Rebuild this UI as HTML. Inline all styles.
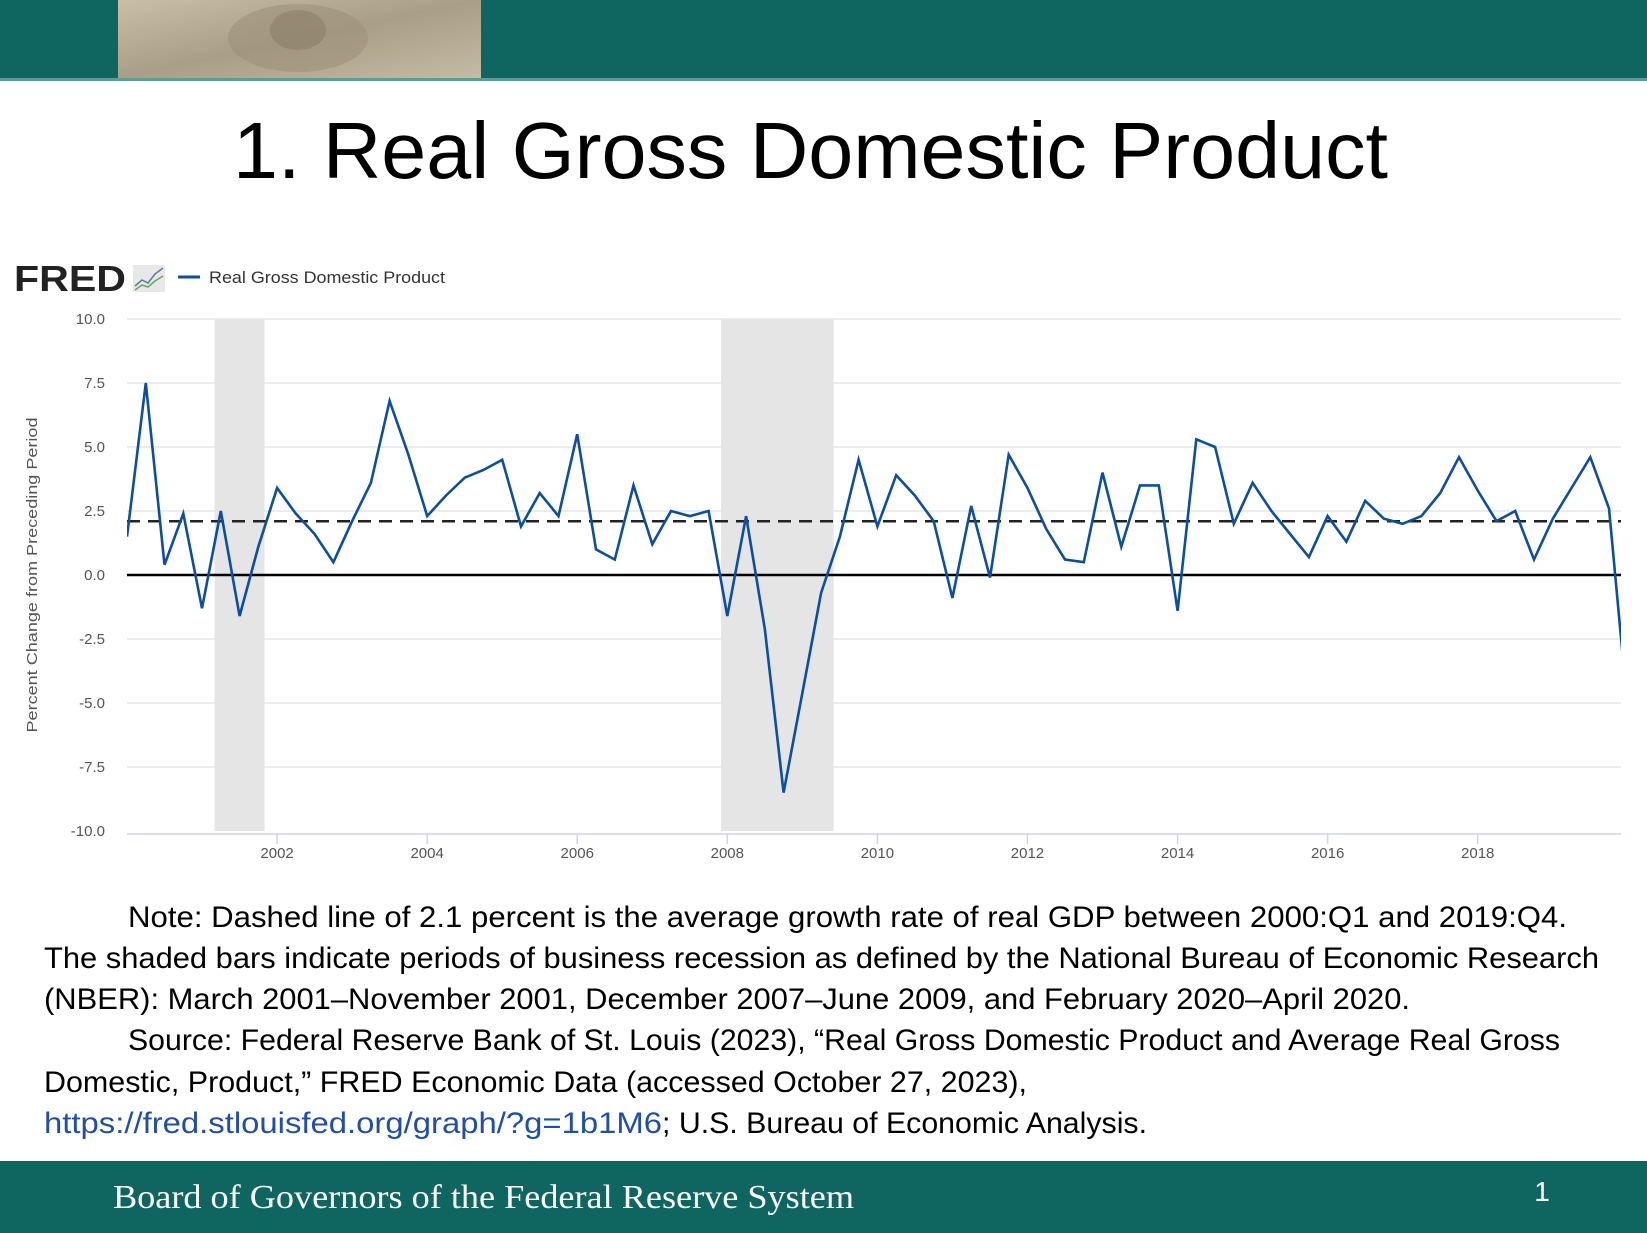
<!DOCTYPE html>
<html><head><meta charset="utf-8"><style>
html,body{margin:0;padding:0;background:#fff}
svg{display:block}
text{font-family:"Liberation Sans",sans-serif}
</style></head><body>
<svg id="s" width="1647" height="1233" viewBox="0 0 1647 1233" xmlns="http://www.w3.org/2000/svg">
<defs>
<linearGradient id="seal" x1="0" y1="0" x2="1" y2="1"><stop offset="0" stop-color="#c9bfa6"/><stop offset="0.5" stop-color="#a99e86"/><stop offset="1" stop-color="#c4bba4"/></linearGradient>
<clipPath id="plotclip"><rect x="127" y="300" width="1494" height="560"/></clipPath>
</defs>
<rect x="0" y="0" width="1647" height="78" fill="#0f6661"/>
<rect x="0" y="78" width="1647" height="3" fill="#5c9d97"/>
<g>
<rect x="118" y="0" width="363" height="78" fill="url(#seal)"/>
<ellipse cx="298" cy="38" rx="70" ry="34" fill="#9c917a" opacity="0.6"/>
<ellipse cx="298" cy="30" rx="28" ry="20" fill="#8a7f69" opacity="0.6"/>
</g>
<text x="233" y="178" font-size="80" textLength="1155" lengthAdjust="spacingAndGlyphs" fill="#000">1. Real Gross Domestic Product</text>

<g>
<text x="14" y="291" font-size="36" font-weight="bold" fill="#222" textLength="112" lengthAdjust="spacingAndGlyphs">FRED</text>
<rect x="133" y="265" width="32" height="27" fill="#e8e8e8"/>
<polyline points="135,286 142,280 148,283 155,274 163,268" fill="none" stroke="#4b7fb0" stroke-width="1.5"/>
<polyline points="135,290 142,285 148,287 155,281 163,276" fill="none" stroke="#6aa84f" stroke-width="1.5"/>
</g>
<line x1="178" y1="277" x2="200" y2="277" stroke="#0b4ea2" stroke-width="3"/>
<text x="209" y="283" font-size="17" fill="#333" textLength="236" lengthAdjust="spacingAndGlyphs">Real Gross Domestic Product</text>

<text transform="translate(37,575) rotate(-90)" font-size="15" fill="#555" text-anchor="middle" textLength="315" lengthAdjust="spacingAndGlyphs">Percent Change from Preceding Period</text>
<g id="grid"></g>
<g id="rec"></g>
<g id="axes"></g>
<g id="series" clip-path="url(#plotclip)"></g>

<g font-size="30" fill="#000">
<text x="128" y="927" textLength="1439" lengthAdjust="spacingAndGlyphs">Note: Dashed line of 2.1 percent is the average growth rate of real GDP between 2000:Q1 and 2019:Q4.</text>
<text x="44" y="968" textLength="1555" lengthAdjust="spacingAndGlyphs">The shaded bars indicate periods of business recession as defined by the National Bureau of Economic Research</text>
<text x="44" y="1009" textLength="1366" lengthAdjust="spacingAndGlyphs">(NBER): March 2001–November 2001, December 2007–June 2009, and February 2020–April 2020.</text>
<text x="128" y="1050" textLength="1432" lengthAdjust="spacingAndGlyphs">Source: Federal Reserve Bank of St. Louis (2023), “Real Gross Domestic Product and Average Real Gross</text>
<text x="44" y="1092" textLength="983" lengthAdjust="spacingAndGlyphs">Domestic, Product,” FRED Economic Data (accessed October 27, 2023),</text>
<text x="44" y="1133" textLength="618" lengthAdjust="spacingAndGlyphs" fill="#1f4fa8">https://fred.stlouisfed.org/graph/?g=1b1M6</text>
<text x="662" y="1133" textLength="485" lengthAdjust="spacingAndGlyphs">; U.S. Bureau of Economic Analysis.</text>
</g>

<rect x="0" y="1161" width="1647" height="72" fill="#0f6661"/>
<text x="113" y="1208" font-size="34" fill="#fff" style="font-family:'Liberation Serif',serif" textLength="741" lengthAdjust="spacingAndGlyphs">Board of Governors of the Federal Reserve System</text>
<text x="1542" y="1201" font-size="28" fill="#fff" text-anchor="middle">1</text>
</svg>
<script>
const gdpValues = [1.5,7.5,0.4,2.4, -1.3,2.5,-1.6,1.1, 3.4,2.4,1.6,0.5, 2.1,3.6,6.8,4.7, 2.3,3.1,3.8,4.1, 4.5,1.9,3.2,2.3, 5.5,1.0,0.6,3.5, 1.2,2.5,2.3,2.5, -1.6,2.3,-2.1,-8.5, -4.6,-0.7,1.5,4.5, 1.9,3.9,3.1,2.1, -0.9,2.7,-0.1,4.7, 3.4,1.8,0.6,0.5, 4.0,1.1,3.5,3.5, -1.4,5.3,5.0,2.0, 3.6,2.5,1.6,0.7, 2.3,1.3,2.9,2.2, 2.0,2.3,3.2,4.6, 3.3,2.1,2.5,0.6, 2.2,3.4,4.6,2.6, -5.3];
const startYear = 2000;
const averageGrowth = [2.1];
const yTicks = [10,7.5,5,2.5,0,-2.5,-5,-7.5,-10];
const yTickLabels = ["10.0","7.5","5.0","2.5","0.0","-2.5","-5.0","-7.5","-10.0"];
const xTicks = [2002,2004,2006,2008,2010,2012,2014,2016,2018];
const recessionStarts = [2001.167, 2007.917];
const recessionEnds = [2001.833, 2009.417];

const NS='http://www.w3.org/2000/svg';
const X0=127, XR=1621, PX=75.04, YT=319, YB=831;
const xs = t => X0 + (t-startYear)*PX;
const ys = v => 575 - v*(YB-YT)/20;
function mk(tag, attrs, parent){const e=document.createElementNS(NS,tag);for(const k in attrs)e.setAttribute(k,attrs[k]);parent.appendChild(e);return e;}
const grid=document.getElementById('grid'), rec=document.getElementById('rec'), axes=document.getElementById('axes'), ser=document.getElementById('series');

yTicks.forEach((v,i)=>{
  if(v!==-10 && v!==0){
    const l=mk('line',{x1:X0,x2:XR,y1:ys(v),y2:ys(v),stroke:'#e6e6e6','stroke-width':1.5},grid);
    
    
  }
  const t=mk('text',{x:105,y:ys(v)+5,'font-size':15,fill:'#555','text-anchor':'end'},axes);
  t.textContent=yTickLabels[i];
  
  
});
recessionStarts.forEach((s,i)=>{
  const r=mk('rect',{x:xs(s),y:YT,width:xs(recessionEnds[i])-xs(s),height:YB-YT,fill:'#e5e5e5'},rec);
  
  
});
const ax=mk('line',{x1:X0,x2:XR,y1:834,y2:834,stroke:'#ccd6eb','stroke-width':1.5},axes);


xTicks.forEach(yr=>{
  const tk=mk('line',{x1:xs(yr),x2:xs(yr),y1:834,y2:844,stroke:'#ccd6eb','stroke-width':1.5},axes);
  
  
  const t=mk('text',{x:xs(yr),y:858,'font-size':15,fill:'#555','text-anchor':'middle'},axes);
  t.textContent=String(yr);
  
  
});
const zl=mk('line',{x1:X0,x2:XR,y1:ys(0),y2:ys(0),stroke:'#000','stroke-width':2.5},axes);


const al=mk('line',{x1:X0,x2:XR,y1:ys(averageGrowth[0]),y2:ys(averageGrowth[0]),stroke:'#222','stroke-width':2.5,'stroke-dasharray':'13,8'},axes);


const pts=gdpValues.map((v,i)=>xs(startYear+i/4).toFixed(1)+','+ys(v).toFixed(1)).join(' ');
const pl=mk('polyline',{points:pts,fill:'none',stroke:'#0b4ea2','stroke-width':2.6,'stroke-linejoin':'miter'},ser);


</script>
</body></html>
